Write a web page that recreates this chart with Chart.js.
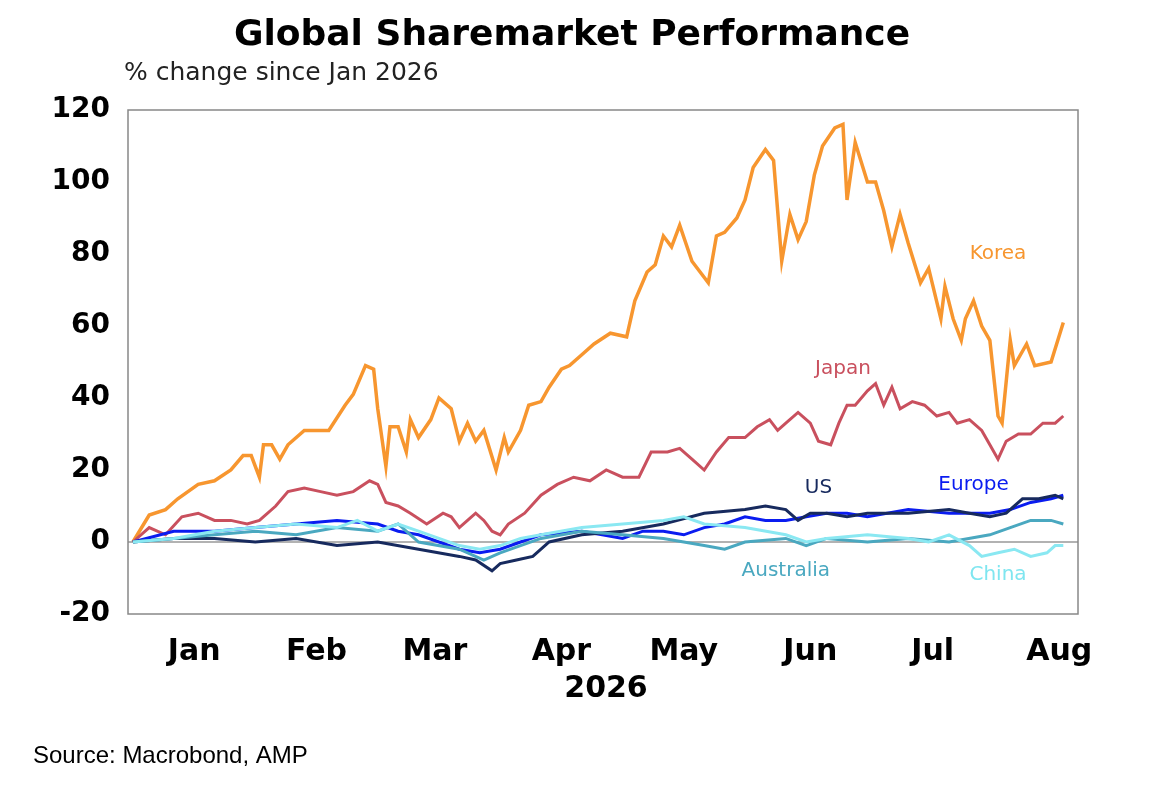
<!DOCTYPE html>
<html><head><meta charset="utf-8">
<script src="https://cdn.jsdelivr.net/npm/chart.js@4/dist/chart.umd.min.js"></script>
<style>html,body{margin:0;padding:0;background:#fff}#w{width:1157px;height:790px;position:relative}</style>
</head><body><div id="w"><canvas id="c"></canvas></div>
<script>
const monthLabels=["Jan","Feb","Mar","Apr","May","Jun","Jul","Aug"];
const monthMid=[15,45,74,105,135,166,196,227];
const yTicks=[-20,0,20,40,60,80,100,120];
const korea=[[0,0],[4,7.5],[8,9],[11,12],[16,16],[20,17],[24,20],[27,24],[29,24],[31,18],[32,27],[34,27],[36,23],[38,27],[42,31],[48,31],[52,38],[54,41],[57,49],[59,48],[60,37],[62,21],[63,32],[65,32],[67,25],[68,34],[70,29],[73,34],[75,40],[78,37],[80,28],[82,33],[84,28],[86,31],[89,20],[91,29],[92,25],[95,31],[97,38],[100,39],[102,43],[105,48],[107,49],[110,52],[113,55],[117,58],[121,57],[123,67],[126,75],[128,77],[130,85],[132,82],[134,88],[137,78],[139,75],[141,72],[143,85],[145,86],[148,90],[150,95],[152,104],[155,109],[157,106],[159,78],[161,91],[163,84],[165,89],[167,102],[169,110],[172,115],[174,116],[175,95],[177,111],[180,100],[182,100],[184,92],[186,82],[188,91],[190,83],[193,72],[195,76],[198,62],[199,71],[201,62],[203,56],[204,62],[206,67],[208,60],[210,56],[212,35],[213,33],[215,56],[216,49],[219,55],[221,49],[225,50],[228,61]];
const japan=[[0,0],[4,4],[8,2],[12,7],[16,8],[20,6],[24,6],[28,5],[31,6],[35,10],[38,14],[42,15],[46,14],[50,13],[54,14],[58,17],[60,16],[62,11],[65,10],[68,8],[72,5],[76,8],[78,7],[80,4],[82,6],[84,8],[86,6],[88,3],[90,2],[92,5],[96,8],[100,13],[104,16],[108,18],[112,17],[116,20],[120,18],[124,18],[127,25],[131,25],[134,26],[137,23],[140,20],[143,25],[146,29],[150,29],[153,32],[156,34],[158,31],[160,33],[163,36],[166,33],[168,28],[171,27],[173,33],[175,38],[177,38],[180,42],[182,44],[184,38],[186,43],[188,37],[191,39],[194,38],[197,35],[200,36],[202,33],[205,34],[208,31],[210,27],[212,23],[214,28],[217,30],[220,30],[223,33],[226,33],[228,35]];
const us=[[0,0],[10,1],[20,1],[30,0],[40,1],[50,-1],[60,0],[70,-2],[80,-4],[84,-5],[88,-8],[90,-6],[94,-5],[98,-4],[102,0],[110,2],[120,3],[130,5],[140,8],[150,9],[155,10],[160,9],[163,6],[166,8],[170,8],[175,7],[180,8],[190,8],[200,9],[205,8],[210,7],[214,8],[218,12],[222,12],[226,13],[228,12]];
const europe=[[0,0],[10,3],[20,3],[30,4],[40,5],[50,6],[60,5],[65,3],[70,2],[80,-2],[85,-3],[90,-2],[95,0],[100,2],[110,3],[115,2],[120,1],[125,3],[130,3],[135,2],[140,4],[145,5],[150,7],[155,6],[160,6],[165,7],[170,8],[175,8],[180,7],[190,9],[200,8],[210,8],[215,9],[220,11],[225,12],[228,13]];
const australia=[[0,0],[10,1],[20,2],[30,3],[40,2],[50,4],[60,3],[65,5],[70,0],[80,-2],[86,-5],[90,-3],[100,1],[110,3],[120,2],[130,1],[140,-1],[145,-2],[150,0],[160,1],[165,-1],[170,1],[180,0],[190,1],[200,0],[210,2],[215,4],[220,6],[225,6],[228,5]];
const china=[[0,0],[10,1],[20,3],[30,4],[40,5],[50,4],[55,6],[60,3],[65,5],[70,3],[75,1],[80,-1],[85,-2],[90,-1],[95,1],[100,2],[110,4],[120,5],[130,6],[135,7],[140,5],[150,4],[160,2],[165,0],[170,1],[180,2],[190,1],[195,0],[200,2],[205,-1],[208,-4],[212,-3],[216,-2],[220,-4],[224,-3],[226,-1],[228,-1]];
const labels=[["Korea",212,80,"#f7962f"],["Japan",174,48,"#c9505e"],["US",168,15,"#172a5e"],["Europe",206,16,"#0a1cf0"],["Australia",160,-8,"#4aa8c0"],["China",212,-9,"#7fe6f0"]];
const pts=a=>a.map(p=>({x:p[0],y:p[1]}));
const ds=(name,arr,col,w)=>({label:name,data:pts(arr),borderColor:col,borderWidth:w,pointRadius:0,tension:0,fill:false});
const F="'Liberation Sans', Arial, sans-serif";
const D="'DejaVu Sans', sans-serif";
const deco={id:'deco',
 beforeDatasetsDraw(c){const {ctx,chartArea:a,scales:{y}}=c;ctx.save();ctx.strokeStyle='#999';ctx.lineWidth=1.5;const z=y.getPixelForValue(0);ctx.beginPath();ctx.moveTo(a.left,z);ctx.lineTo(a.right,z);ctx.stroke();ctx.restore();},
 afterDraw(c){const {ctx,chartArea:a,scales:{x,y}}=c;ctx.save();
  ctx.strokeStyle='#888';ctx.lineWidth=1.5;ctx.strokeRect(a.left,a.top,a.right-a.left,a.bottom-a.top);
  ctx.fillStyle='#000';ctx.textAlign='center';ctx.textBaseline='middle';
  ctx.font='bold 36px '+D;ctx.fillText('Global Sharemarket Performance',572,36);
  ctx.textAlign='left';ctx.font='25px '+D;ctx.fillStyle='#222';ctx.fillText('% change since Jan 2026',124,73);
  ctx.textAlign='center';ctx.fillStyle='#000';ctx.font='bold 30px '+D;ctx.fillText('2026',606,689);
  ctx.textAlign='left';ctx.font='24px '+F;ctx.fillText('Source: Macrobond, AMP',33,756);
  ctx.textAlign='center';ctx.font='20px '+D;
  labels.forEach(l=>{ctx.fillStyle=l[3];ctx.fillText(l[0],x.getPixelForValue(l[1]),y.getPixelForValue(l[2]));});
  ctx.restore();}};
new Chart(document.getElementById('c'),{type:'line',
 data:{datasets:[ds('China',china,'#8ae8f2',3),ds('Australia',australia,'#4aa8c0',3),ds('US',us,'#172a5e',3),ds('Europe',europe,'#0a1cf0',3),ds('Japan',japan,'#c9505e',3),ds('Korea',korea,'#f7962f',3.5)]},
 options:{responsive:true,maintainAspectRatio:false,animation:false,
  layout:{padding:{left:0,right:79,top:110,bottom:0}},
  plugins:{legend:{display:false},tooltip:{enabled:false}},
  scales:{
   x:{type:'linear',min:-1.2,max:231.6,grid:{display:false,drawTicks:false},border:{display:false},
      afterBuildTicks:s=>{s.ticks=monthMid.map(v=>({value:v}));},
      afterFit:s=>{s.height=176;},
      ticks:{padding:20,color:'#000',font:{family:D,size:30,weight:'bold'},autoSkip:false,maxRotation:0,
        callback:(v,i)=>monthLabels[i]}},
   y:{min:-20,max:120,grid:{display:false,drawTicks:false},border:{display:false},
      afterBuildTicks:s=>{s.ticks=yTicks.map(v=>({value:v}));},
      afterFit:s=>{s.width=128;},
      ticks:{padding:18,color:'#000',font:{family:D,size:28,weight:'bold'}}}}},
 plugins:[deco]});
</script></body></html>
